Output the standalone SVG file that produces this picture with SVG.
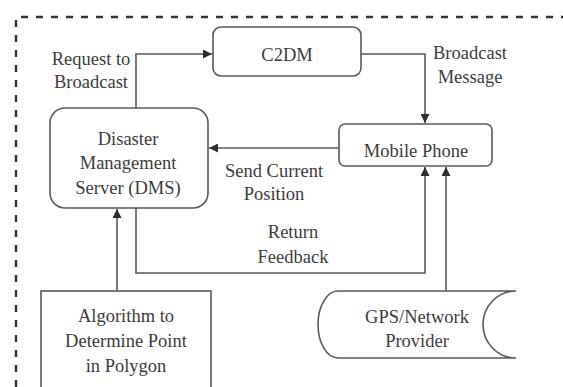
<svg xmlns="http://www.w3.org/2000/svg" width="563" height="387" viewBox="0 0 563 387">
<style>
.box{fill:#fff;stroke:#5a5a5a;stroke-width:1.6}
.ln{fill:none;stroke:#5a5a5a;stroke-width:1.6}
</style>
<defs>
<marker id="ah" viewBox="0 0 10 10" refX="10" refY="5" markerWidth="9" markerHeight="9" markerUnits="userSpaceOnUse" orient="auto">
<path d="M0,0 L10,5 L0,10 z" fill="#2e2e2e"/>
</marker>
</defs>
<rect width="563" height="387" fill="#fff"/>
<path d="M16,387 V17 H563" fill="none" stroke="#333" stroke-width="2.4" stroke-dasharray="7 8"/>
<g id="connectors">
<path class="ln" d="M136,108 V54 H212" marker-end="url(#ah)"/>
<path class="ln" d="M361,54 H425 V123" marker-end="url(#ah)"/>
<path class="ln" d="M339,148 H209" marker-end="url(#ah)"/>
<path class="ln" d="M136,208 V273 H425 V167" marker-end="url(#ah)"/>
<path class="ln" d="M446,291 V167" marker-end="url(#ah)"/>
<path class="ln" d="M117,291 V209" marker-end="url(#ah)"/>
</g>
<g id="labels" font-family="Liberation Serif" font-size="18.5" fill="#3c3c3c" text-anchor="middle">
<text x="91" y="65">Request to</text>
<text x="91" y="88">Broadcast</text>
<text x="470" y="59">Broadcast</text>
<text x="470" y="83">Message</text>
<text x="274" y="177">Send Current</text>
<text x="274" y="200">Position</text>
<text x="293" y="238">Return</text>
<text x="293" y="263">Feedback</text>
</g>
<g id="c2dm" font-family="Liberation Serif" font-size="18.5" fill="#3c3c3c" text-anchor="middle">
<rect class="box" x="213" y="27" width="148" height="49" rx="8"/>
<text x="287" y="61">C2DM</text>
</g>
<g id="dms" font-family="Liberation Serif" font-size="18.5" fill="#3c3c3c" text-anchor="middle">
<rect class="box" x="50" y="108" width="158" height="100" rx="15"/>
<text x="128" y="145">Disaster</text>
<text x="128" y="169">Management</text>
<text x="128" y="194">Server (DMS)</text>
</g>
<g id="mobile" font-family="Liberation Serif" font-size="18.5" fill="#3c3c3c" text-anchor="middle">
<rect class="box" x="339" y="124" width="153" height="42" rx="6"/>
<text x="416" y="157">Mobile Phone</text>
</g>
<g id="algorithm" font-family="Liberation Serif" font-size="18.5" fill="#3c3c3c" text-anchor="middle">
<rect class="box" x="41" y="291" width="170" height="120"/>
<text x="126" y="322">Algorithm to</text>
<text x="126" y="347">Determine Point</text>
<text x="126" y="372">in Polygon</text>
</g>
<g id="gps" font-family="Liberation Serif" font-size="18.5" fill="#3c3c3c" text-anchor="middle">
<path class="box" d="M516,291 H338 A20,33.5 0 0 0 338,358 H516 A33,33.5 0 0 1 516,291 Z"/>
<text x="417" y="323">GPS/Network</text>
<text x="417" y="347">Provider</text>
</g>
</svg>
